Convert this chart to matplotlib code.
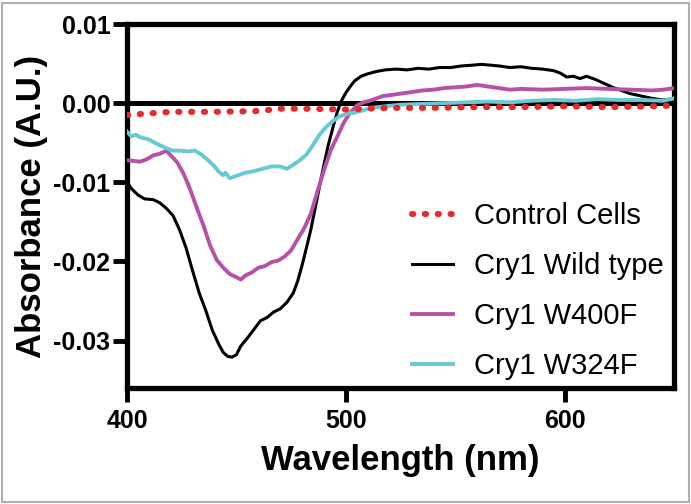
import matplotlib
matplotlib.use("Agg")
import matplotlib.pyplot as plt
from matplotlib.patches import Rectangle

plt.rcParams['font.family'] = ['Liberation Sans', 'DejaVu Sans']

# ---- data ----
wt_x = [400, 402, 405, 408, 412, 415, 418, 421, 424, 427, 430, 433, 436, 439, 442, 444, 446, 448, 450,
        452, 455, 458, 461, 464, 467, 470, 473, 476, 478, 480, 482, 484, 486, 488, 490, 492, 494, 496,
        498, 500, 502, 504, 507, 510, 514, 518, 523, 528, 533, 538, 543, 548, 553, 558, 562, 566, 570,
        575, 580, 585, 590, 595, 598, 601, 604, 607, 610, 614, 618, 622, 626, 630, 635, 640, 645, 648, 650]
wt_y = [-0.0100, -0.0108, -0.0116, -0.0121, -0.0122, -0.0126, -0.0133, -0.0142, -0.0160, -0.0183,
        -0.0212, -0.0240, -0.0262, -0.0287, -0.0305, -0.0315, -0.0320, -0.0321, -0.0318, -0.0307,
        -0.0297, -0.0286, -0.0275, -0.0271, -0.0264, -0.0260, -0.0252, -0.0240, -0.0225, -0.0205,
        -0.0183, -0.0160, -0.0133, -0.0105, -0.0078, -0.0053, -0.0032, -0.0012, 0.0003, 0.0013,
        0.0021, 0.0028, 0.0034, 0.0037, 0.0040, 0.0042, 0.0043, 0.0042, 0.0044, 0.0043, 0.0045,
        0.0045, 0.0047, 0.0048, 0.0049, 0.0048, 0.0047, 0.0045, 0.0046, 0.0044, 0.0043, 0.0041,
        0.0038, 0.0033, 0.0034, 0.0031, 0.0034, 0.0030, 0.0025, 0.0020, 0.0016, 0.0012, 0.0009,
        0.0006, 0.0004, 0.0005, 0.0002]

w400_x = [400, 403, 406, 409, 412, 415, 418, 420, 423, 426, 429, 432, 435, 438, 441, 444, 447, 450,
          452, 454, 457, 460, 463, 466, 469, 472, 475, 478, 481, 484, 487, 490, 493, 496, 499, 502,
          505, 508, 511, 514, 517, 520, 525, 530, 535, 540, 545, 550, 555, 560, 565, 570, 575, 580,
          590, 600, 610, 620, 630, 640, 645, 650]
w400_y = [-0.0072, -0.0073, -0.0074, -0.0071, -0.0066, -0.0064, -0.0060, -0.0066, -0.0075, -0.0090,
          -0.0110, -0.0133, -0.0155, -0.0180, -0.0198, -0.0208, -0.0216, -0.0220, -0.0223, -0.0218,
          -0.0214, -0.0208, -0.0206, -0.0201, -0.0199, -0.0194, -0.0186, -0.0172, -0.0158, -0.0140,
          -0.0112, -0.0085, -0.0060, -0.0043, -0.0025, -0.0012, -0.0003, 0.0001, 0.0003, 0.0006,
          0.0009, 0.0010, 0.0012, 0.0014, 0.0016, 0.0017, 0.0019, 0.0020, 0.0021, 0.0023, 0.0021,
          0.0019, 0.0017, 0.0018, 0.0017, 0.0018, 0.0019, 0.0018, 0.0017, 0.0016, 0.0017, 0.0019]

w324_x = [400, 402, 404, 406, 410, 414, 418, 421, 424, 428, 431, 434, 437, 440, 442, 444, 445, 447,
          450, 454, 458, 462, 466, 470, 473, 476, 479, 482, 485, 488, 491, 494, 497, 500, 504, 508,
          512, 518, 525, 535, 545, 555, 565, 575, 585, 595, 605, 615, 625, 635, 645, 650]
w324_y = [-0.0036, -0.0042, -0.0040, -0.0043, -0.0046, -0.0052, -0.0057, -0.0060, -0.0060, -0.0061,
          -0.0060, -0.0065, -0.0072, -0.0080, -0.0087, -0.0091, -0.0088, -0.0095, -0.0092, -0.0088,
          -0.0086, -0.0083, -0.0080, -0.0080, -0.0083, -0.0078, -0.0072, -0.0065, -0.0053, -0.0040,
          -0.0030, -0.0023, -0.0017, -0.0014, -0.0012, -0.0009, -0.0006, -0.0004, -0.0002, -0.0001,
          0.0000, 0.0001, 0.0002, 0.0001, 0.0003, 0.0004, 0.0003, 0.0005, 0.0004, 0.0004, 0.0003, 0.0006]

ctrl_x = [400, 420, 440, 460, 470, 480, 500, 520, 540, 560, 580, 600, 620, 640, 650]
ctrl_y = [-0.0015, -0.0011, -0.0011, -0.0010, -0.0007, -0.0007, -0.0008, -0.0006, -0.0006,
          -0.0005, -0.0005, -0.0004, -0.0005, -0.0004, -0.0003]

labels = ["Control Cells", "Cry1 Wild type", "Cry1 W400F", "Cry1 W324F"]
xticks = [400, 500, 600]
yticks = [0.01, 0.00, -0.01, -0.02, -0.03]
ytick_labels = ["0.01", "0.00", "-0.01", "-0.02", "-0.03"]

# ---- figure ----
fig = plt.figure(figsize=(6.91, 5.04), dpi=100)
ax = fig.add_axes([127 / 691, 1 - 388 / 504, (674 - 127) / 691, (388 - 24) / 504])

ax.axhline(0, color='black', lw=3.6, zorder=1)
l_wt, = ax.plot(wt_x, wt_y, color='black', lw=2.2, zorder=3)
l_400, = ax.plot(w400_x, w400_y, color='#b552a8', lw=2.8, zorder=3)
l_324, = ax.plot(w324_x, w324_y, color='#68c9d6', lw=2.8, zorder=3)
l_ctrl, = ax.plot(ctrl_x, ctrl_y, color='#e52a2d', lw=4.4, zorder=4,
                  dashes=(0.2, 1.9), dash_capstyle='round')

ax.set_xlim(400, 650)
ax.set_ylim(-0.036, 0.01)
ax.set_xticks(xticks)
ax.set_xticklabels([str(t) for t in xticks])
ax.set_yticks(yticks)
ax.set_yticklabels(ytick_labels)

for s in ax.spines.values():
    s.set_linewidth(3.8)
ax.tick_params(axis='both', length=10, width=3.5, direction='out', labelsize=18)
ax.tick_params(axis='y', pad=2)
ax.tick_params(axis='x', pad=5)
for t in ax.get_xticklabels() + ax.get_yticklabels():
    t.set_fontweight('bold')

ax.set_xlabel("Wavelength (nm)", fontsize=25, fontweight='bold', labelpad=8)
ax.set_ylabel("Absorbance (A.U.)", fontsize=25, fontweight='bold', labelpad=4)

ax.legend([l_ctrl, l_wt, l_400, l_324], labels, loc='upper left',
          bbox_to_anchor=(412 / 691, 1 - 202 / 504), bbox_transform=fig.transFigure,
          frameon=False, fontsize=21, borderpad=0, borderaxespad=0,
          handlelength=1.4, handletextpad=0.72, labelspacing=0.76)

fig.patches.append(Rectangle((1.5 / 691, 2.5 / 504), 687 / 691, 499 / 504,
                             transform=fig.transFigure, fill=False,
                             edgecolor='#b0b0b0', lw=1.5, zorder=0))

fig.savefig("out.png", dpi=100)
